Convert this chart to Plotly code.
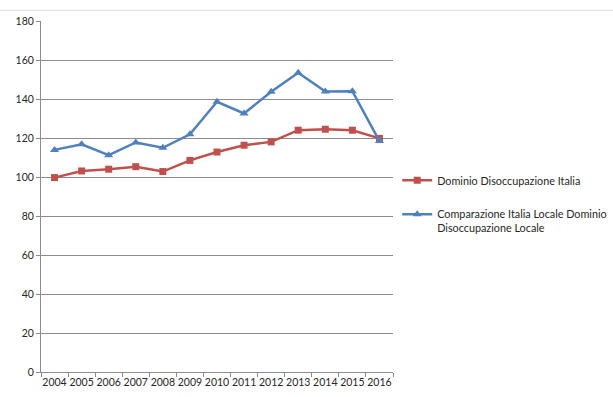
import plotly.graph_objects as go

years = ["2004", "2005", "2006", "2007", "2008", "2009", "2010",
         "2011", "2012", "2013", "2014", "2015", "2016"]
dominio_italia = [99.7, 103.1, 104.0, 105.3, 102.8, 108.5, 112.8,
                  116.3, 118.0, 124.0, 124.5, 124.0, 119.8]
comparazione_locale = [113.9, 116.8, 111.2, 117.7, 115.0, 121.9, 138.6,
                       132.6, 143.7, 153.5, 143.8, 144.0, 118.4]

name_red = "Dominio Disoccupazione Italia"
name_blue = "Comparazione Italia Locale Dominio<br>Disoccupazione Locale"

FONT = "Lato, Liberation Sans, Arial, sans-serif"
GRID = "#8c8c8c"

fig = go.Figure()
fig.add_trace(go.Scatter(
    x=years, y=dominio_italia, name=name_red, mode="lines+markers",
    line=dict(color="#C0504D", width=2.5),
    marker=dict(symbol="square", size=7, color="#C0504D"),
    legendgroup="a",
))
fig.add_trace(go.Scatter(
    x=years, y=comparazione_locale, name=name_blue, mode="lines+markers",
    line=dict(color="#4F81BD", width=2.5),
    marker=dict(symbol="triangle-up", size=8, color="#4F81BD"),
    legendgroup="b",
))

fig.update_layout(
    width=613, height=397,
    margin=dict(l=41, r=220, t=21, b=25, autoexpand=False),
    paper_bgcolor="white", plot_bgcolor="white",
    font=dict(family=FONT, size=10.5, color="#262626"),
    showlegend=True,
    legend=dict(
        x=1.012, y=0.585, xanchor="left", yanchor="top",
        valign="top", tracegroupgap=15, itemwidth=30,
        font=dict(family=FONT, size=10.8, color="#262626"),
        bgcolor="rgba(0,0,0,0)",
    ),
    xaxis=dict(
        type="category", range=[-0.5, 12.5], showgrid=False,
        showline=True, linecolor=GRID, linewidth=1,
        ticks="outside", ticklen=4, tickcolor=GRID, tickson="boundaries",
        tickangle=0, automargin=False, fixedrange=True,
    ),
    yaxis=dict(
        range=[0, 180], dtick=20, showgrid=True, gridcolor=GRID, gridwidth=1,
        showline=True, linecolor=GRID, linewidth=1,
        ticks="outside", ticklen=4, tickcolor=GRID, zeroline=False,
        automargin=False, fixedrange=True,
    ),
    shapes=[dict(
        type="line", xref="paper", yref="paper",
        x0=-0.117, x1=1.63, y0=1.0304, y1=1.0304,
        line=dict(color="#d9d9d9", width=1),
    )],
)

fig.write_html("out.html")
